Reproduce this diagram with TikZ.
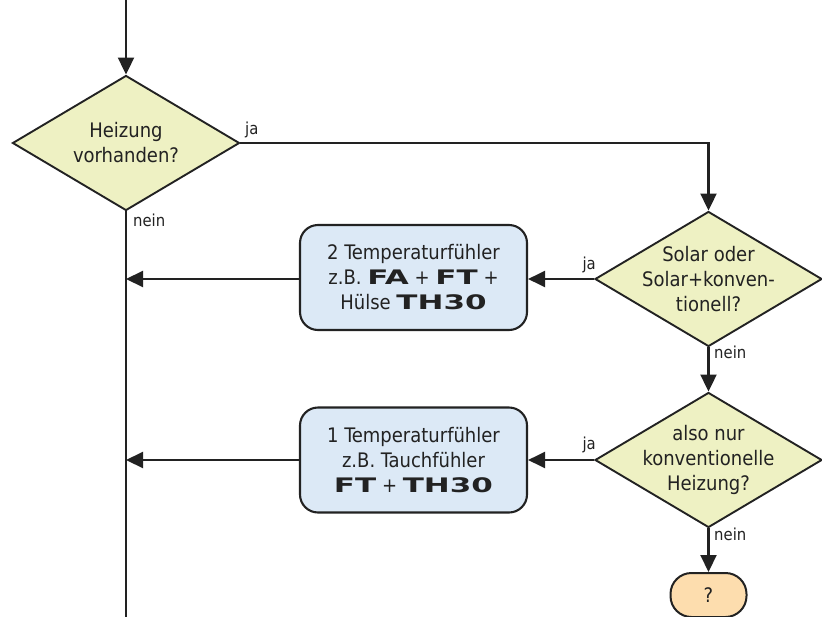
\documentclass[tikz,border=0pt]{standalone}
\usepackage{fontspec}
\usepackage{graphicx}
\setmainfont{DejaVu Sans Condensed}
\newfontfamily\techfont{DejaVu Sans}[FakeStretch=1.55]
\newcommand\tk[1]{{\techfont\bfseries #1}}
\usetikzlibrary{arrows.meta,shapes.geometric}
\definecolor{diafill}{HTML}{EEF1C3}
\definecolor{boxfill}{HTML}{DCE9F6}
\definecolor{endfill}{HTML}{FDDDAE}
\definecolor{ink}{HTML}{222222}
\tikzset{
  every node/.style={text=ink},
  dia/.style={shape=diamond, draw=ink, fill=diafill, line width=1.9pt, inner sep=0pt,
              minimum width=227pt, minimum height=135pt},
  txt/.style={align=center, font=\fontsize{20}{25}\selectfont},
  procbox/.style={draw=ink, fill=boxfill, line width=2.1pt, rounded corners=18pt,
              minimum width=227pt, minimum height=105pt, align=center,
              font=\fontsize{20}{25}\selectfont},
  term/.style={draw=ink, fill=endfill, line width=2pt, rounded corners=21pt,
              minimum width=76pt, minimum height=44pt, font=\fontsize{20}{24}\selectfont},
  conn/.style={draw=ink, line width=2.1pt},
  arr/.style={conn, -{Triangle[length=17pt,width=16pt]}},
  lbl/.style={font=\fontsize{16.5}{18}\selectfont, inner sep=0pt}
}
\begin{document}
\begin{tikzpicture}[x=1pt,y=-1pt]
\useasboundingbox (0,0) rectangle (822,616);
\fill[white] (0,0) rectangle (822,616);
% nodes
\coordinate (top) at (126,0);
\coordinate (bot) at (126,618);
\node[dia] (d1) at (126,143) {};
\node[txt] (t1) at (d1) {Heizung\\vorhanden?};
\node[dia] (d2) at (708.5,279) {};
\node[txt] (t2) at (d2) {Solar oder\\Solar+konven-\\tionell?};
\node[dia] (d3) at (708.5,460) {};
\node[txt] (t3) at (d3) {also nur\\konventionelle\\Heizung?};
\node[procbox] (b1) at (413.5,277.5) {2 Temperaturfühler\\z.B. \tk{FA} + \tk{FT} +\\Hülse \tk{TH30}};
\node[procbox] (b2) at (413.5,460) {1 Temperaturfühler\\z.B. Tauchfühler\\\tk{FT} + \tk{TH30}};
\node[term] (e) at (708.5,595) {?};
\coordinate (c1) at (708.5,143);
\coordinate (m1) at (126,279);
\coordinate (m2) at (126,460);
% connectors
\draw[arr] (top) -- (d1.north);
\draw[arr] (d1.east) -- (c1) -- (d2.north);
\draw[conn] (d1.south) -- (bot);
\draw[arr] (d2.west) -- (b1.east |- d2.west);
\draw[arr] (b1.west |- m1) -- (m1);
\draw[arr] (d2.south) -- (d3.north);
\draw[arr] (d3.west) -- (b2.east);
\draw[arr] (b2.west) -- (m2);
\draw[arr] (d3.south) -- (e.north);
% labels
\node[lbl, anchor=south west] at (245,138) {ja};
\node[lbl, anchor=north west] at (133,214) {nein};
\node[lbl, anchor=south east] at (596,273) {ja};
\node[lbl, anchor=north west] at (714,346) {nein};
\node[lbl, anchor=south east] at (596,453) {ja};
\node[lbl, anchor=north west] at (714,528) {nein};
\end{tikzpicture}
\end{document}
